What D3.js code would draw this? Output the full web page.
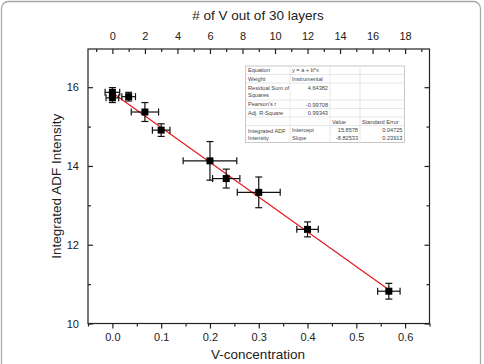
<!DOCTYPE html>
<html>
<head>
<meta charset="utf-8">
<script src="https://cdn.jsdelivr.net/npm/d3@7"></script>
<style>
  body { margin: 0; background: #fff; }
  svg { display: block; font-family: "Liberation Sans", Arial, sans-serif; }
</style>
</head>
<body>
<svg id="chart" width="484" height="364"></svg>
<script>
const width = 484;
const height = 364;

// data
const layers = [0, 0, 1, 2, 3, 6, 7, 9, 12, 17];
const intensity = [15.87, 15.73, 15.76, 15.37, 14.91, 14.13, 13.68, 13.33, 12.39, 10.82];
const yErr = [0.12, 0.12, 0.11, 0.24, 0.16, 0.49, 0.24, 0.39, 0.19, 0.20];
const xErr = [0.015, 0.013, 0.014, 0.028, 0.018, 0.055, 0.028, 0.044, 0.022, 0.023];

// fit result
const fitA = 15.8578;
const fitB = -8.82533;

const bottomTicks = [0, 0.1, 0.2, 0.3, 0.4, 0.5, 0.6];
const topTicks = [0, 2, 4, 6, 8, 10, 12, 14, 16, 18];
const yTicks = [10, 12, 14, 16];

// table rows: label ("|" = line break), value
const tableRows = [
    ["Equation", "y = a + b*x"],
    ["Weight", "Instrumental"],
    ["Residual Sum of|Squares", "4.64382"],
    ["Pearson's r", "-0.99708"],
    ["Adj. R-Square", "0.99343"]
];
const paramNames = ["Intercept", "Slope"];
const paramValues = ["15.8578", "-8.82533"];
const paramErrors = ["0.04725", "0.23913"];

const svg = d3.select("#chart");

// rounded frame around the figure
svg.append("rect")
    .attr("x", 1.5).attr("y", 1.5)
    .attr("width", 479).attr("height", 380)
    .attr("rx", 7)
    .attr("fill", "none")
    .attr("stroke", "#aaa")
    .attr("stroke-width", 1.3);

const plot = { left: 88, right: 429.5, top: 49, bottom: 323.5 };

const x = d3.scaleLinear().domain([-0.05, 0.65]).range([plot.left, plot.right]);
const xTop = d3.scaleLinear().domain([-1.5, 19.5]).range([plot.left, plot.right]);
const y = d3.scaleLinear().domain([10, 16.97]).range([plot.bottom, plot.top]);

// frame of plot
svg.append("rect")
    .attr("x", plot.left).attr("y", plot.top)
    .attr("width", plot.right - plot.left).attr("height", plot.bottom - plot.top)
    .attr("fill", "none").attr("stroke", "#222").attr("stroke-width", 1.2);

const axisColor = "#222";
function styleAxis(g) {
    g.select(".domain").remove();
    g.selectAll("line").attr("stroke", axisColor).attr("stroke-width", 1.2);
    g.selectAll("text").attr("fill", "#222").attr("font-size", "11px")
        .attr("font-family", "Liberation Sans, Arial, sans-serif");
}

// bottom axis: ticks outside
svg.append("g")
    .attr("transform", `translate(0,${plot.bottom})`)
    .call(d3.axisBottom(x).tickValues(bottomTicks).tickFormat(d3.format(".1f")).tickSize(5).tickPadding(5))
    .call(styleAxis);
svg.append("g")
    .attr("transform", `translate(0,${plot.bottom})`)
    .call(d3.axisBottom(x).tickValues(d3.range(-0.05, 0.66, 0.1)).tickFormat("").tickSize(3))
    .call(styleAxis);

// top axis: ticks inside
svg.append("g")
    .attr("transform", `translate(0,${plot.top})`)
    .call(d3.axisTop(xTop).tickValues(topTicks).tickFormat(d3.format("d")).tickSize(-5).tickPadding(9))
    .call(styleAxis);
svg.append("g")
    .attr("transform", `translate(0,${plot.top})`)
    .call(d3.axisTop(xTop).tickValues(d3.range(-1, 20, 2)).tickFormat("").tickSize(-3))
    .call(styleAxis);

// left axis: ticks inside
svg.append("g")
    .attr("transform", `translate(${plot.left},0)`)
    .call(d3.axisLeft(y).tickValues(yTicks).tickFormat(d3.format("d")).tickSize(-5).tickPadding(9))
    .call(styleAxis);
svg.append("g")
    .attr("transform", `translate(${plot.left},0)`)
    .call(d3.axisLeft(y).tickValues([11, 13, 15]).tickFormat("").tickSize(-3))
    .call(styleAxis);

// right axis: ticks inside, no labels
svg.append("g")
    .attr("transform", `translate(${plot.right},0)`)
    .call(d3.axisRight(y).tickValues(yTicks).tickFormat("").tickSize(-5))
    .call(styleAxis);
svg.append("g")
    .attr("transform", `translate(${plot.right},0)`)
    .call(d3.axisRight(y).tickValues([11, 13, 15]).tickFormat("").tickSize(-3))
    .call(styleAxis);

// axis titles
svg.append("text")
    .attr("x", 258).attr("y", 20)
    .attr("text-anchor", "middle")
    .attr("font-size", "13.5px").attr("fill", "#222")
    .text("# of V out of 30 layers");

svg.append("text")
    .attr("x", 258).attr("y", 359)
    .attr("text-anchor", "middle")
    .attr("font-size", "13.5px").attr("fill", "#222")
    .text("V-concentration");

svg.append("text")
    .attr("transform", `translate(61,${(plot.top + plot.bottom) / 2}) rotate(-90)`)
    .attr("text-anchor", "middle")
    .attr("font-size", "13.5px").attr("fill", "#222")
    .text("Integrated ADF Intensity");

// points
const points = layers.map((n, i) => ({
    c: n / 30, v: intensity[i], ex: xErr[i], ey: yErr[i]
}));

// fit line
const cMax = d3.max(points, d => d.c);
svg.append("line")
    .attr("x1", x(0)).attr("y1", y(fitA))
    .attr("x2", x(cMax)).attr("y2", y(fitA + fitB * cMax))
    .attr("stroke", "#e31a1c").attr("stroke-width", 1.2);

const cap = 3.5;
const eg = svg.append("g").attr("stroke", "#111").attr("stroke-width", 1.2);
points.forEach(d => {
    const cx = x(d.c), cy = y(d.v);
    const x0 = x(d.c - d.ex), x1 = x(d.c + d.ex);
    const y0 = y(d.v - d.ey), y1 = y(d.v + d.ey);
    eg.append("line").attr("x1", x0).attr("x2", x1).attr("y1", cy).attr("y2", cy);
    eg.append("line").attr("x1", x0).attr("x2", x0).attr("y1", cy - cap).attr("y2", cy + cap);
    eg.append("line").attr("x1", x1).attr("x2", x1).attr("y1", cy - cap).attr("y2", cy + cap);
    eg.append("line").attr("x1", cx).attr("x2", cx).attr("y1", y0).attr("y2", y1);
    eg.append("line").attr("x1", cx - cap).attr("x2", cx + cap).attr("y1", y0).attr("y2", y0);
    eg.append("line").attr("x1", cx - cap).attr("x2", cx + cap).attr("y1", y1).attr("y2", y1);
});

svg.selectAll(".pt")
    .data(points)
    .join("rect")
    .attr("class", "pt")
    .attr("x", d => x(d.c) - 3.5)
    .attr("y", d => y(d.v) - 3.5)
    .attr("width", 7).attr("height", 7)
    .attr("fill", "#000");

// results table
const tb = svg.append("g");
const cols = [245.5, 290, 330, 360, 404.5];
const rowsY = [66, 74.5, 83, 100, 108.5, 117, 125.5, 142.5];
tb.append("rect")
    .attr("x", cols[0]).attr("y", rowsY[0])
    .attr("width", cols[4] - cols[0]).attr("height", rowsY[7] - rowsY[0])
    .attr("fill", "#fff").attr("stroke", "#bbb").attr("stroke-width", 0.8);

const gridColor = "#ddd";
// horizontal lines
rowsY.slice(1, 7).forEach(yy => {
    tb.append("line").attr("x1", cols[0]).attr("x2", cols[4])
        .attr("y1", yy).attr("y2", yy)
        .attr("stroke", gridColor).attr("stroke-width", 0.7);
});
// vertical lines
cols.slice(1, 4).forEach(xx => {
    tb.append("line").attr("x1", xx).attr("x2", xx)
        .attr("y1", rowsY[0]).attr("y2", rowsY[7])
        .attr("stroke", gridColor).attr("stroke-width", 0.7);
});

const fs = "5.6px";
const txtColor = "#444";
function cellText(tx, ty, str, anchor) {
    tb.append("text").attr("x", tx).attr("y", ty)
        .attr("text-anchor", anchor || "start")
        .attr("font-size", fs).attr("fill", txtColor)
        .text(str);
}

tableRows.forEach((r, i) => {
    const top = rowsY[i], bot = rowsY[i + 1];
    const parts = r[0].split("|");
    if (parts.length === 2) {
        cellText(cols[0] + 2.5, top + 6.5, parts[0]);
        cellText(cols[0] + 2.5, top + 14, parts[1]);
    } else {
        cellText(cols[0] + 2.5, (top + bot) / 2 + 2, parts[0]);
    }
    const isNum = /^-?[0-9.]+$/.test(r[1]);
    if (isNum) {
        cellText(cols[2] - 2, top + 6.5, r[1], "end");
    } else {
        cellText(cols[1] + 2, top + 6, r[1]);
    }
});

cellText(cols[2] + 2, rowsY[5] + 6.5, "Value");
cellText(cols[3] + 2, rowsY[5] + 6.5, "Standard Error");
cellText(cols[0] + 2.5, rowsY[6] + 7, "Integrated ADF");
cellText(cols[0] + 2.5, rowsY[6] + 14.5, "Intensity");
paramNames.forEach((p, i) => {
    const ty = rowsY[6] + 6.5 + i * 8;
    cellText(cols[1] + 2, ty, p);
    cellText(cols[3] - 2, ty, paramValues[i], "end");
    cellText(cols[4] - 2, ty, paramErrors[i], "end");
});
</script>
</body>
</html>
